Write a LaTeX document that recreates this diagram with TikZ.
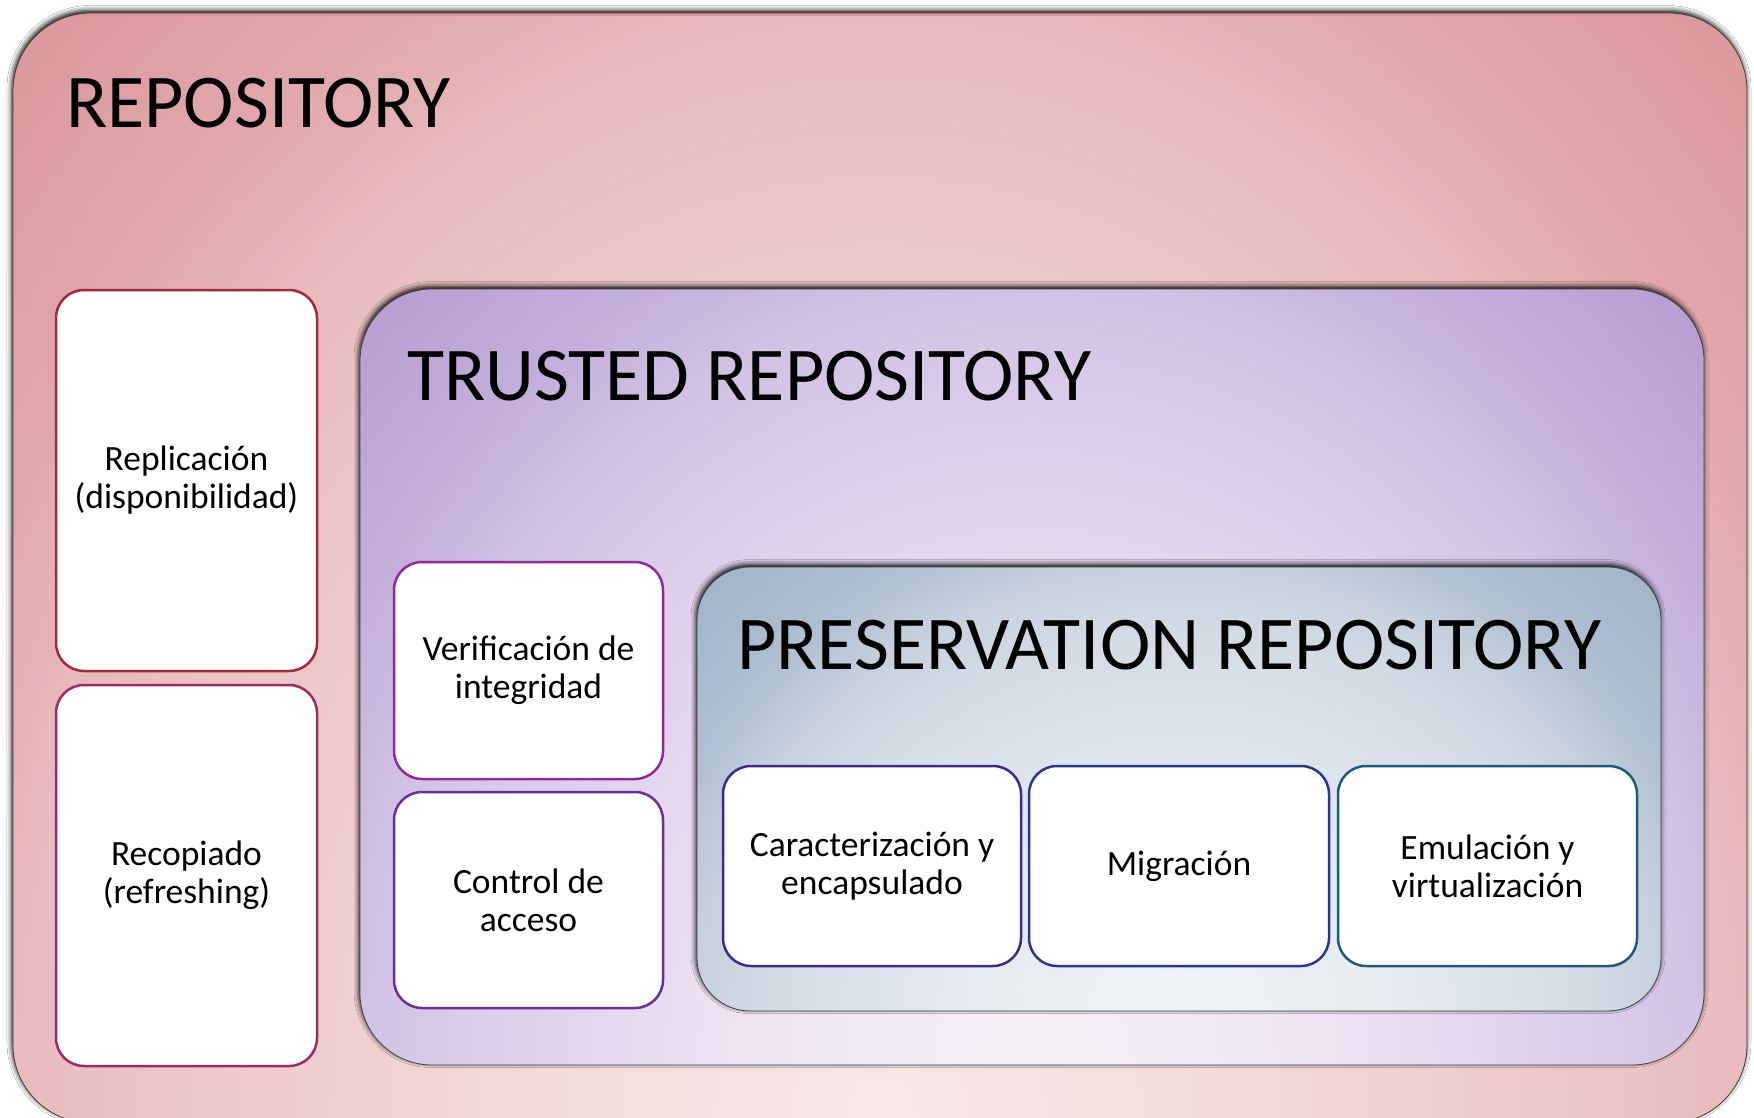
\documentclass[tikz,border=0pt]{standalone}
\usepackage{fontspec}
\setmainfont{Carlito}
\usetikzlibrary{shadows.blur,calc}
\definecolor{pinkD}{HTML}{DA9499}
\definecolor{lavD}{HTML}{B59CD1}
\definecolor{bluD}{HTML}{A0B2C8}
\definecolor{sRepA}{HTML}{A3283F}
\definecolor{sRepB}{HTML}{9E2A66}
\definecolor{sTrA}{HTML}{93279B}
\definecolor{sTrB}{HTML}{6B2D9E}
\definecolor{sPrA}{HTML}{3D2A8F}
\definecolor{sPrB}{HTML}{26398F}
\definecolor{sPrC}{HTML}{1D5A7E}
\pgfdeclareradialshading{pinkrad}{\pgfpoint{0bp}{0bp}}{rgb(0bp)=(0.97,0.91,0.91); rgb(11bp)=(0.95,0.85,0.85); rgb(21bp)=(0.92,0.77,0.78); rgb(25bp)=(0.91,0.73,0.74); rgb(28.5bp)=(0.88,0.66,0.68); rgb(35.5bp)=(0.86,0.59,0.61); rgb(50bp)=(0.86,0.59,0.61)}
\pgfdeclareradialshading{lavrad}{\pgfpoint{0bp}{0bp}}{rgb(0bp)=(0.96,0.94,0.97); rgb(11bp)=(0.93,0.89,0.95); rgb(21bp)=(0.86,0.80,0.92); rgb(25bp)=(0.82,0.76,0.89); rgb(28.5bp)=(0.77,0.69,0.86); rgb(35.5bp)=(0.71,0.61,0.82); rgb(50bp)=(0.71,0.61,0.82)}
\pgfdeclareradialshading{blurad}{\pgfpoint{0bp}{0bp}}{rgb(0bp)=(0.94,0.95,0.965); rgb(11bp)=(0.90,0.92,0.94); rgb(21bp)=(0.83,0.86,0.90); rgb(25bp)=(0.78,0.82,0.87); rgb(28.5bp)=(0.69,0.75,0.82); rgb(35.5bp)=(0.62,0.70,0.78); rgb(50bp)=(0.62,0.70,0.78)}
\tikzset{
  container/.style={rectangle, inner sep=0pt, outer sep=0pt,
    blur shadow={shadow xshift=-1pt, shadow yshift=2.5pt, shadow blur radius=5pt, shadow opacity=100}},
  rim/.style={draw=black!75, line width=0.8pt},
  itembox/.style={rectangle, inner sep=0pt, outer sep=0pt, rounded corners=28pt, fill=white,
    line width=2.5pt, align=center, font=\fontsize{35.5}{38}\selectfont},
  titletext/.style={anchor=base west, inner sep=0pt, font=\fontsize{76}{90}\selectfont}
}
\begin{document}
\begin{tikzpicture}[x=1pt,y=-1pt]
\useasboundingbox (0,0) rectangle (1754,1118);
\clip (0,0) rectangle (1754,1118);
\fill[white] (0,0) rectangle (1754,1118);
% outer repository
\node[container, fill=pinkD, rounded corners=78pt, minimum width=1734pt, minimum height=1110pt] (repo) at (880,568) {};
\begin{scope}
\clip[rounded corners=78pt] (repo.north west) rectangle (repo.south east);
\shade[shading=pinkrad] ($(repo.south)+(-867,-1106)$) rectangle ($(repo.south)+(867,1106)$);
\end{scope}
\draw[rim, rounded corners=78pt] (repo.north west) rectangle (repo.south east);
\node[itembox, draw=sRepA, minimum width=261pt, minimum height=381pt] (replic) at (186.5,480.5) {Replicación\\(disponibilidad)};
\node[itembox, draw=sRepB, minimum width=261pt, minimum height=381pt] (recop) at (186.5,875.5) {Recopiado\\(refreshing)};
% trusted repository
\node[container, fill=lavD, rounded corners=72pt, minimum width=1344pt, minimum height=776pt] (trusted) at (1032,677) {};
\begin{scope}
\clip[rounded corners=72pt] (trusted.north west) rectangle (trusted.south east);
\shade[shading=lavrad] ($(trusted.south)+(-672,-776)$) rectangle ($(trusted.south)+(672,776)$);
\end{scope}
\draw[rim, rounded corners=72pt] (trusted.north west) rectangle (trusted.south east);
\node[itembox, draw=sTrA, minimum width=269pt, minimum height=217pt] (verif) at (528.5,670.5) {Verificación de\\integridad};
\node[itembox, draw=sTrB, minimum width=269pt, minimum height=216pt] (control) at (528.5,900) {Control de\\acceso};
% preservation repository
\node[container, fill=bluD, rounded corners=53pt, minimum width=964pt, minimum height=444pt] (pres) at (1179,789) {};
\begin{scope}
\clip[rounded corners=53pt] (pres.north west) rectangle (pres.south east);
\shade[shading=blurad] ($(pres.south)+(-482,-444)$) rectangle ($(pres.south)+(482,444)$);
\end{scope}
\draw[rim, rounded corners=53pt] (pres.north west) rectangle (pres.south east);
\node[itembox, draw=sPrA, minimum width=298pt, minimum height=200pt] (carac) at (872,866) {Caracterización y\\encapsulado};
\node[itembox, draw=sPrB, minimum width=300pt, minimum height=200pt] (migr) at (1179,866) {Migración};
\node[itembox, draw=sPrC, minimum width=299pt, minimum height=200pt] (emul) at (1487.5,866) {Emulación y\\virtualización};
% titles
\node[titletext] (trepo) at (66,128) {REPOSITORY};
\node[titletext] (ttrust) at (407,400) {TRUSTED REPOSITORY};
\node[titletext] (tpres) at (737,669) {PRESERVATION REPOSITORY};
\end{tikzpicture}
\end{document}
